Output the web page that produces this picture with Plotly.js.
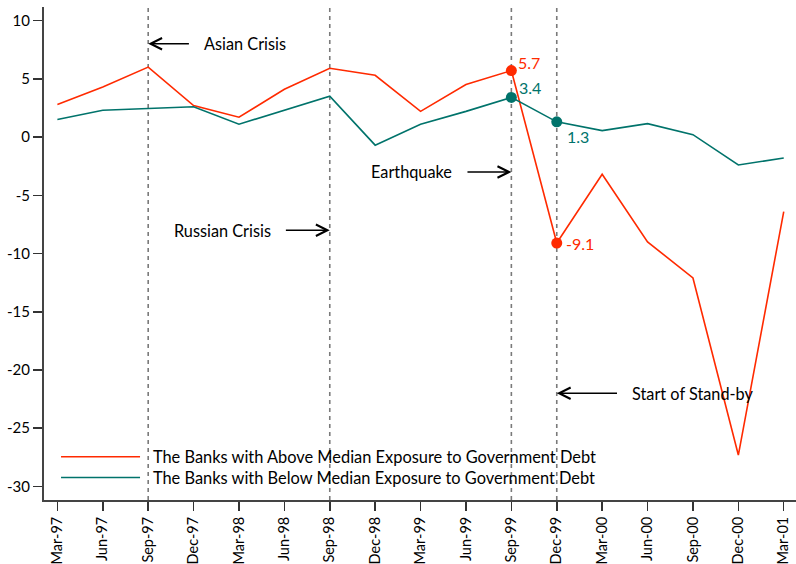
<!DOCTYPE html>
<html>
<head>
<meta charset="utf-8">
<script src="https://cdn.plot.ly/plotly-3.0.1.min.js"></script>
<style>html,body{margin:0;padding:0;background:#fff;}#chart{width:796px;height:564px;}</style>
</head>
<body>
<div id="chart"></div>
<script>
var quarters = ["Mar-97","Jun-97","Sep-97","Dec-97","Mar-98","Jun-98","Sep-98","Dec-98","Mar-99","Jun-99","Sep-99","Dec-99","Mar-00","Jun-00","Sep-00","Dec-00","Mar-01"];
var aboveMedian = [2.8, 4.3, 6.0, 2.7, 1.7, 4.1, 5.9, 5.3, 2.2, 4.5, 5.7, -9.1, -3.2, -9.0, -12.1, -27.3, -6.4];
var belowMedian = [1.5, 2.3, 2.45, 2.6, 1.1, 2.3, 3.5, -0.7, 1.1, 2.2, 3.4, 1.3, 0.55, 1.15, 0.2, -2.4, -1.8];
var seriesNames = ["The Banks with Above Median Exposure to Government Debt", "The Banks with Below Median Exposure to Government Debt"];
var eventDates = ["Sep-97", "Sep-98", "Sep-99", "Dec-99"];
var eventLabels = ["Asian Crisis", "Russian Crisis", "Earthquake", "Start of Stand-by"];
var eventArrowY = [8, -8, -3, -22];
var highlightQuarters = ["Sep-99", "Dec-99"];

var RED = "#ff2a00", TEAL = "#00736b";
var FONT = "Lato, 'DejaVu Sans', sans-serif";
var idx = function(q){ return quarters.indexOf(q); };
var GAP = "\u00a0\u00a0";

var traces = [
  {x: quarters, y: aboveMedian, type: "scatter", mode: "lines", name: GAP + seriesNames[0], line: {color: RED, width: 1.6}, legend: "legend"},
  {x: quarters, y: belowMedian, type: "scatter", mode: "lines", name: GAP + seriesNames[1], line: {color: TEAL, width: 1.6}, legend: "legend2"},
  {x: highlightQuarters, y: highlightQuarters.map(function(q){return aboveMedian[idx(q)];}), type: "scatter", mode: "markers",
   marker: {color: RED, size: 11}, showlegend: false, cliponaxis: false},
  {x: highlightQuarters, y: highlightQuarters.map(function(q){return belowMedian[idx(q)];}), type: "scatter", mode: "markers",
   marker: {color: TEAL, size: 11}, showlegend: false, cliponaxis: false}
];

var shapes = eventDates.map(function(q){
  return {type: "line", xref: "x", yref: "paper", x0: q, x1: q, y0: 0, y1: 1,
          line: {color: "#7a7a7a", width: 1.6, dash: "4px,4px"}, layer: "below"};
});

var annotations = [];
// arrow tail offsets (in quarters) and label side: +1 label to the right, -1 to the left
var arrowLen = [0.93, 1.0, 1.0, 1.36];
var side = [1, -1, -1, 1];
eventDates.forEach(function(q, k){
  var i = idx(q), y = eventArrowY[k], dir = side[k];
  var tail = i + dir * arrowLen[k];
  annotations.push({x: i, y: y, xref: "x", yref: "y", ax: tail, ay: y, axref: "x", ayref: "y",
    text: "", showarrow: true, arrowhead: 5, arrowsize: 1.4, arrowwidth: 1.6, arrowcolor: "#000", standoff: 0, startstandoff: 0});
  annotations.push({x: tail + dir * 0.26, y: y, xref: "x", yref: "y", text: eventLabels[k], showarrow: false,
    xanchor: dir > 0 ? "left" : "right", yanchor: "middle", font: {family: FONT, size: 16.3, color: "#000"}});
});

// value labels on highlighted points
var labelShift = {above: [[5, 8], [7, 0]], below: [[6, 10], [8, -15]]};
highlightQuarters.forEach(function(q, k){
  annotations.push({x: q, y: aboveMedian[idx(q)], xref: "x", yref: "y", text: aboveMedian[idx(q)].toFixed(1), showarrow: false,
    xanchor: "left", yanchor: "middle", xshift: labelShift.above[k][0], yshift: labelShift.above[k][1],
    font: {family: FONT, size: 16, color: RED}});
  annotations.push({x: q, y: belowMedian[idx(q)], xref: "x", yref: "y", text: belowMedian[idx(q)].toFixed(1), showarrow: false,
    xanchor: "left", yanchor: "middle", xshift: labelShift.below[k][0], yshift: labelShift.below[k][1],
    font: {family: FONT, size: 16, color: TEAL}});
});

var legendBase = {xanchor: "left", yanchor: "middle", bgcolor: "rgba(0,0,0,0)", itemwidth: 79,
                  font: {family: FONT, size: 16.4, color: "#000"}, borderwidth: 0};

var layout = {
  width: 796, height: 564,
  margin: {l: 44, r: 0, t: 7, b: 64},
  paper_bgcolor: "#fff", plot_bgcolor: "#fff",
  font: {family: FONT, size: 15, color: "#000"},
  showlegend: true,
  legend: Object.assign({x: 0.016, y: 0.087}, legendBase),
  legend2: Object.assign({x: 0.016, y: 0.045}, legendBase),
  xaxis: {type: "category", categoryorder: "array", categoryarray: quarters, range: [-0.295, 16.27],
          showgrid: false, zeroline: false, showline: true, linecolor: "#444", linewidth: 2,
          ticks: "outside", ticklen: 9, tickwidth: 1.5, tickcolor: "#333", tickangle: -90,
          tickfont: {family: FONT, size: 14.5, color: "#000"}, fixedrange: true},
  yaxis: {range: [-31.16, 11.16], tickvals: [-30,-25,-20,-15,-10,-5,0,5,10], ticktext: ["-30","-25","-20","-15","-10","-5","0","5","10"],
          showgrid: false, zeroline: false, showline: true, linecolor: "#444", linewidth: 2,
          ticks: "outside", ticklen: 9, tickwidth: 1.5, tickcolor: "#333",
          tickfont: {family: FONT, size: 15, color: "#000"}, fixedrange: true},
  shapes: shapes,
  annotations: annotations
};

Plotly.newPlot("chart", traces, layout, {displayModeBar: false, staticPlot: true});
</script>
</body>
</html>
